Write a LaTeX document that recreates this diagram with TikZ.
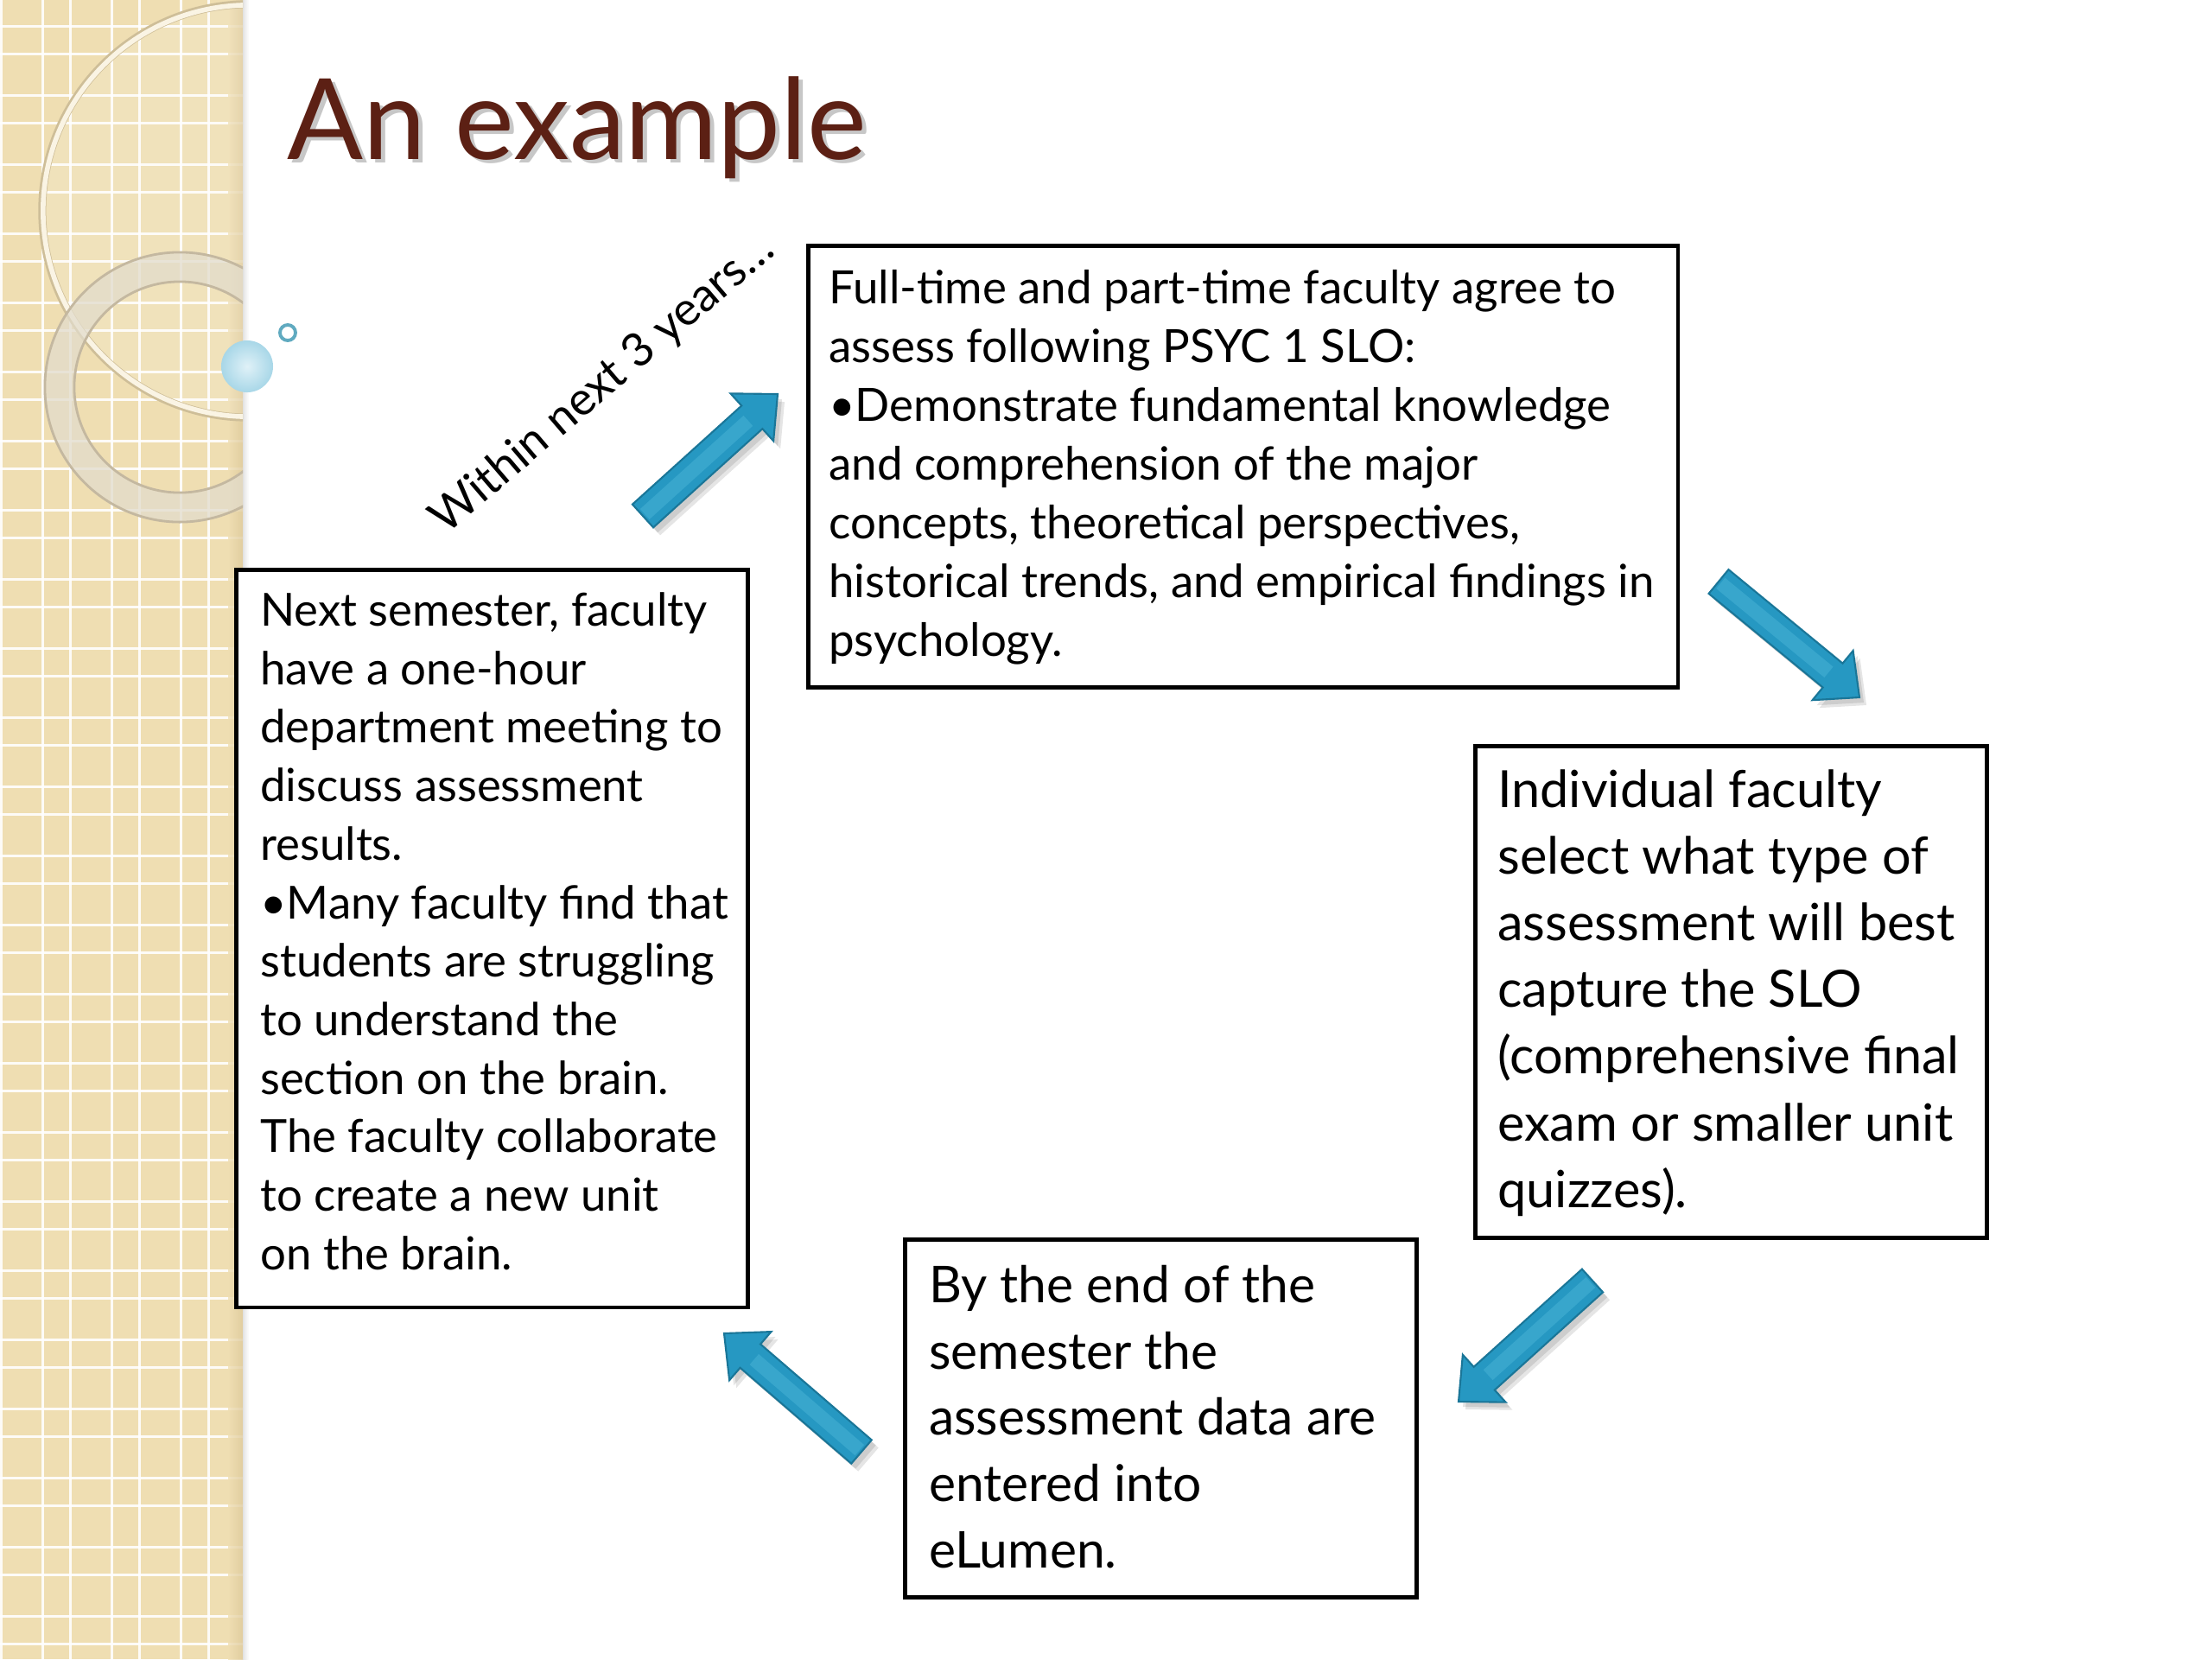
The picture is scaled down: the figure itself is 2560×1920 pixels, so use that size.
\documentclass[tikz,border=0pt]{standalone}
\usepackage{fontspec}
\setmainfont{Lato}
\newfontfamily\condfont[FakeStretch=0.995]{Lato}
\usetikzlibrary{calc}
\definecolor{bandtan}{RGB}{239,222,178}
\definecolor{bandedge}{RGB}{222,202,156}
\definecolor{ringgray}{RGB}{226,220,204}
\definecolor{ringedge}{RGB}{196,184,160}
\definecolor{ringcream}{RGB}{250,244,228}
\definecolor{ringdark}{RGB}{206,190,152}
\definecolor{ballblue}{RGB}{176,220,236}
\definecolor{smallteal}{RGB}{96,170,192}
\definecolor{titlebrown}{RGB}{92,32,20}
\definecolor{arrowteal}{RGB}{38,152,194}
\definecolor{arrowlight}{RGB}{72,178,214}
\definecolor{arrowdark}{RGB}{26,118,152}
\tikzset{
  txtbox/.style={draw=black, line width=1.3pt, inner sep=0pt, anchor=north west, fill=white},
  gridline/.style={fill=white, opacity=0.9},
  arrowbody/.style={fill=arrowteal, draw=arrowdark, line width=0.6pt, line join=miter},
  arrowshadow/.style={fill=black, opacity=0.10},
}
% width, height, left pad, first baseline offset, font, text
\newcommand\boxcontent[6]{\parbox[t][#2][t]{#1}{#5\parindent=0pt\leftskip=#3\rightskip=0pt plus 1fil\relax\vspace*{\dimexpr#4-0.7\baselineskip\relax}\strut #6}}
\newcommand\blockarrow[2]{%
  \coordinate (bah) at ($(#2)!0.40cm!(#1)$);
  \path[arrowshadow, transform canvas={shift={(0.05cm,-0.06cm)}}] ($(#1)!0.18cm!90:(#2)$) -- ($(bah)!0.18cm!90:(#2)$) -- ($(bah)!0.37cm!90:(#2)$) -- (#2) -- ($(bah)!0.37cm!-90:(#2)$) -- ($(bah)!0.18cm!-90:(#2)$) -- ($(#1)!0.18cm!-90:(#2)$) -- cycle;
  \path[arrowshadow, transform canvas={shift={(0.08cm,-0.09cm)}}] ($(#1)!0.18cm!90:(#2)$) -- ($(bah)!0.18cm!90:(#2)$) -- ($(bah)!0.37cm!90:(#2)$) -- (#2) -- ($(bah)!0.37cm!-90:(#2)$) -- ($(bah)!0.18cm!-90:(#2)$) -- ($(#1)!0.18cm!-90:(#2)$) -- cycle;
  \path[arrowbody] ($(#1)!0.18cm!90:(#2)$) -- ($(bah)!0.18cm!90:(#2)$) -- ($(bah)!0.37cm!90:(#2)$) -- (#2) -- ($(bah)!0.37cm!-90:(#2)$) -- ($(bah)!0.18cm!-90:(#2)$) -- ($(#1)!0.18cm!-90:(#2)$) -- cycle;
  \draw[arrowlight, opacity=0.55, line width=0.16cm] ($(#1)!0.03cm!(#2)$) -- ($(bah)!0.06cm!(#1)$);
}
\begin{document}
\begin{tikzpicture}[x=0.01cm,y=-0.01cm]
\useasboundingbox (0,0) rectangle (2560,1920);
\fill[white] (0,0) rectangle (2560,1920);
% ---- left band ----
\fill[bandtan] (0,0) rectangle (281,1920);
\foreach \k in {0,...,3}{
  \fill[gridline] ({80*\k+0.0},0) rectangle ({80*\k+3.4},1920);
  \fill[gridline] ({80*\k+47.6},0) rectangle ({80*\k+51.0},1920);
}
\foreach \k in {0,...,23}{
  \fill[gridline] (0,{80*\k+29.0}) rectangle (281,{80*\k+32.4});
  \fill[gridline] (0,{80*\k+61.0}) rectangle (281,{80*\k+64.4});
}
\shade[left color=bandtan, right color=bandedge, opacity=0.8] (264,0) rectangle (281,1920);
\shade[left color=black!18, right color=white, opacity=0.6] (281,0) rectangle (288,1920);
\begin{scope}
  \clip (0,0) rectangle (281,1920);
  \fill[white, opacity=0.12] (288,244) circle (2.38cm);
  \draw[ringdark, line width=2.6pt] (288,244) circle (2.39cm);
  \draw[ringcream, line width=1.6pt] (288,244) circle (2.38cm);
  \draw[ringgray, opacity=0.75, line width=0.34cm] (208,448) circle (1.39cm);
  \draw[ringedge, line width=0.8pt] (208,448) circle (1.56cm);
  \draw[ringedge, line width=0.8pt] (208,448) circle (1.22cm);
\end{scope}
\shade[inner color=white!60!ballblue, outer color=ballblue!90!smallteal] (286,424) circle (0.30cm);
\draw[smallteal, line width=1.1pt] (333,385) circle (0.09cm);
% ---- title ----
\node[anchor=base west, inner sep=0pt, text=black, opacity=0.22, font=\fontsize{37pt}{40pt}\selectfont] at (337,188) {An example};
\node[anchor=base west, inner sep=0pt, text=titlebrown, font=\fontsize{37pt}{40pt}\selectfont] (title) at (332,184) {An example};
% ---- boxes ----
\node[txtbox] (b1) at (933,282) {\boxcontent{10.06cm}{5.11cm}{0.24cm}{0.67cm}{\condfont\fontsize{15.1pt}{0.68cm}\selectfont}{Full-time and part-time faculty agree to\\
assess following PSYC 1 SLO:\\
•Demonstrate fundamental knowledge\\
and comprehension of the major\\
concepts, theoretical perspectives,\\
historical trends, and empirical findings in\\
psychology.}};
\node[txtbox] (b2) at (1705,861) {\boxcontent{5.92cm}{5.69cm}{0.26cm}{0.71cm}{\fontsize{16.9pt}{0.771cm}\selectfont}{Individual faculty\\
select what type of\\
assessment will best\\
capture the SLO\\
(comprehensive final\\
exam or smaller unit\\
quizzes).}};
\node[txtbox] (b3) at (1045,1432) {\boxcontent{5.92cm}{4.14cm}{0.28cm}{0.73cm}{\fontsize{16.7pt}{0.767cm}\selectfont}{By the end of the\\
semester the\\
assessment data are\\
entered into\\
eLumen.}};
\node[txtbox] (b4) at (271,657) {\boxcontent{5.92cm}{8.53cm}{0.28cm}{0.65cm}{\fontsize{15.0pt}{0.677cm}\selectfont}{Next semester, faculty\\
have a one-hour\\
department meeting to\\
discuss assessment\\
results.\\
•Many faculty find that\\
students are struggling\\
to understand the\\
section on the brain.\\
The faculty collaborate\\
to create a new unit\\
on the brain.}};
% ---- rotated label ----
\node[rotate=40.5, anchor=base west, inner sep=0pt, font=\fontsize{15.3pt}{18pt}\selectfont] (lbl) at (516,620) {Within next 3 years…};
% ---- arrows ----
\coordinate (a1s) at (744,597);  \coordinate (a1t) at (900,456);
\coordinate (a2s) at (1989,673); \coordinate (a2t) at (2152,807);
\coordinate (a3s) at (1843,1482); \coordinate (a3t) at (1688,1622);
\coordinate (a4s) at (997,1680); \coordinate (a4t) at (838,1543);
\blockarrow{a1s}{a1t}
\blockarrow{a2s}{a2t}
\blockarrow{a3s}{a3t}
\blockarrow{a4s}{a4t}
\end{tikzpicture}
\end{document}
